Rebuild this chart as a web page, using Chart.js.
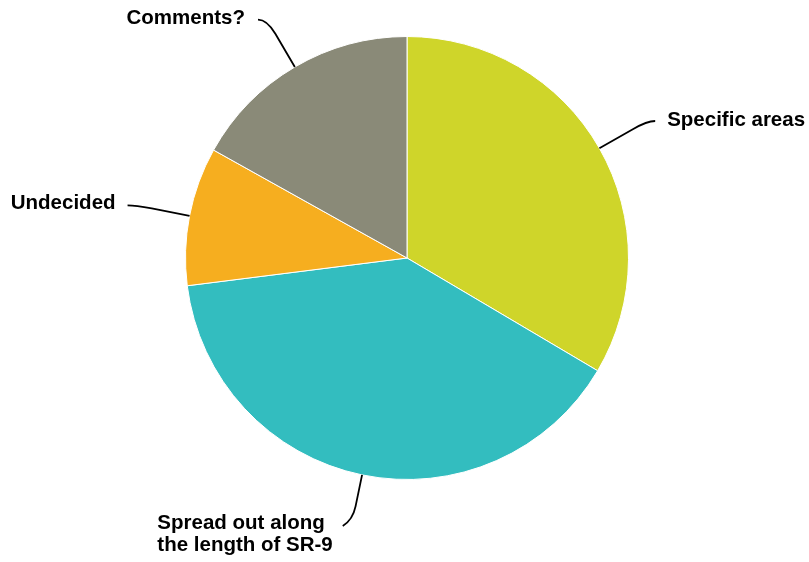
<!DOCTYPE html>
<html>
<head>
<meta charset="utf-8">
<script src="https://cdn.jsdelivr.net/npm/chart.js@4/dist/chart.umd.min.js"></script>
<style>
  html, body { margin: 0; padding: 0; background: #ffffff; }
  #wrap { width: 809px; height: 562px; position: relative; }
</style>
</head>
<body>
<div id="wrap"><canvas id="c" width="809" height="562"></canvas></div>
<script>
// ---- Data ----
const categories = ["Specific areas", ["Spread out along", "the length of SR-9"], "Undecided", "Comments?"];
const shares = [33.5, 39.5, 10.1, 16.9];
const sliceColors = ["#CFD52A", "#33BDBF", "#F6AE1F", "#8A8A78"];

// ---- Label / leader styling (layout only) ----
const leaderStyle = [
  { ext: 55, tail: 8,  side: 1,  gap: 12, dy: 5 },
  { ext: 46, tail: 10, side: -1, gap: 10, dy: 3 },
  { ext: 55, tail: 8,  side: -1, gap: 12, dy: 4 },
  { ext: 55, tail: 9,  side: -1, gap: 13, dy: 4 }
];
const labelFont = "bold 20.5px 'Liberation Sans', Arial, sans-serif";
const lineHeight = 22;

const outsideLabels = {
  id: 'outsideLabels',
  afterDatasetsDraw(chart) {
    const ctx = chart.ctx;
    const meta = chart.getDatasetMeta(0);
    ctx.save();
    meta.data.forEach((arc, i) => {
      const st = leaderStyle[i];
      const mid = (arc.startAngle + arc.endAngle) / 2;
      const r = arc.outerRadius;
      const cx = arc.x, cy = arc.y;
      const cos = Math.cos(mid), sin = Math.sin(mid);
      const p0 = { x: cx + r * cos, y: cy + r * sin };
      const p1 = { x: cx + (r + st.ext) * cos, y: cy + (r + st.ext) * sin };
      const pa = { x: p0.x + 0.7 * (p1.x - p0.x), y: p0.y + 0.7 * (p1.y - p0.y) };
      const p2 = { x: p1.x + st.side * st.tail, y: p1.y + (i === 1 ? 6 : 0) };
      ctx.beginPath();
      ctx.moveTo(p0.x, p0.y);
      ctx.lineTo(pa.x, pa.y);
      ctx.quadraticCurveTo(p1.x, p1.y, p2.x, p2.y);
      ctx.strokeStyle = '#000';
      ctx.lineWidth = 1.8;
      ctx.stroke();

      const lbl = chart.data.labels[i];
      const lines = Array.isArray(lbl) ? lbl : [lbl];
      ctx.font = labelFont;
      ctx.fillStyle = '#000';
      ctx.textBaseline = 'alphabetic';
      const maxW = Math.max(...lines.map(l => ctx.measureText(l).width));
      let x;
      if (st.side > 0) { x = p2.x + st.gap; }
      else { x = p2.x - st.gap - maxW; }
      ctx.textAlign = 'left';
      lines.forEach((l, k) => {
        ctx.fillText(l, x, p2.y + st.dy + k * lineHeight);
      });
    });
    ctx.restore();
  }
};

new Chart(document.getElementById('c'), {
  type: 'pie',
  data: {
    labels: categories,
    datasets: [{
      data: shares,
      backgroundColor: sliceColors,
      borderColor: '#ffffff',
      borderWidth: 1
    }]
  },
  options: {
    responsive: false,
    animation: false,
    layout: { padding: { top: 36, bottom: 82, left: 185, right: 180 } },
    plugins: {
      legend: { display: false },
      tooltip: { enabled: false }
    }
  },
  plugins: [outsideLabels]
});
</script>
</body>
</html>
